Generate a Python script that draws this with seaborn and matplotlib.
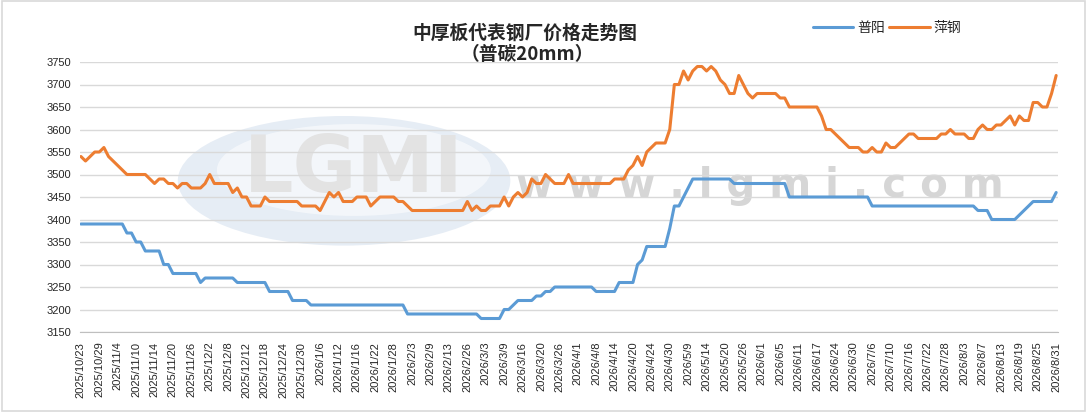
import pandas as pd
import matplotlib.pyplot as plt
import seaborn as sns
from matplotlib.patches import Ellipse, Rectangle

# x-axis labels (one every 4 data points)
tick_labels = ["2025/10/23", "2025/10/29", "2025/11/4", "2025/11/10", "2025/11/14", "2025/11/20",
               "2025/11/26", "2025/12/2", "2025/12/8", "2025/12/12", "2025/12/18", "2025/12/24",
               "2025/12/30", "2026/1/6", "2026/1/12", "2026/1/16", "2026/1/22", "2026/1/28",
               "2026/2/3", "2026/2/9", "2026/2/13", "2026/2/26", "2026/3/3", "2026/3/9",
               "2026/3/16", "2026/3/20", "2026/3/26", "2026/4/1", "2026/4/8", "2026/4/14",
               "2026/4/20", "2026/4/24", "2026/4/30", "2026/5/9", "2026/5/14", "2026/5/20",
               "2026/5/26", "2026/6/1", "2026/6/5", "2026/6/11", "2026/6/17", "2026/6/24",
               "2026/6/30", "2026/7/6", "2026/7/10", "2026/7/16", "2026/7/22", "2026/7/28",
               "2026/8/3", "2026/8/7", "2026/8/13", "2026/8/19", "2026/8/25", "2026/8/31"]

puyang = [
    3390, 3390, 3390, 3390, 3390, 3390, 3390, 3390, 3390, 3390,
    3370, 3370, 3350, 3350, 3330, 3330, 3330, 3330, 3300, 3300,
    3280, 3280, 3280, 3280, 3280, 3280, 3260, 3270, 3270, 3270,
    3270, 3270, 3270, 3270, 3260, 3260, 3260, 3260, 3260, 3260,
    3260, 3240, 3240, 3240, 3240, 3240, 3220, 3220, 3220, 3220,
    3210, 3210, 3210, 3210, 3210, 3210, 3210, 3210, 3210, 3210,
    3210, 3210, 3210, 3210, 3210, 3210, 3210, 3210, 3210, 3210,
    3210, 3190, 3190, 3190, 3190, 3190, 3190, 3190, 3190, 3190,
    3190, 3190, 3190, 3190, 3190, 3190, 3190, 3180, 3180, 3180,
    3180, 3180, 3200, 3200, 3210, 3220, 3220, 3220, 3220, 3230,
    3230, 3240, 3240, 3250, 3250, 3250, 3250, 3250, 3250, 3250,
    3250, 3250, 3240, 3240, 3240, 3240, 3240, 3260, 3260, 3260,
    3260, 3300, 3310, 3340, 3340, 3340, 3340, 3340, 3380, 3430,
    3430, 3450, 3470, 3490, 3490, 3490, 3490, 3490, 3490, 3490,
    3490, 3490, 3480, 3480, 3480, 3480, 3480, 3480, 3480, 3480,
    3480, 3480, 3480, 3480, 3450, 3450, 3450, 3450, 3450, 3450,
    3450, 3450, 3450, 3450, 3450, 3450, 3450, 3450, 3450, 3450,
    3450, 3450, 3430, 3430, 3430, 3430, 3430, 3430, 3430, 3430,
    3430, 3430, 3430, 3430, 3430, 3430, 3430, 3430, 3430, 3430,
    3430, 3430, 3430, 3430, 3430, 3420, 3420, 3420, 3400, 3400,
    3400, 3400, 3400, 3400, 3410, 3420, 3430, 3440, 3440, 3440,
    3440, 3440, 3460]

pinggang = [
    3540, 3530, 3540, 3550, 3550, 3560, 3540, 3530, 3520, 3510,
    3500, 3500, 3500, 3500, 3500, 3490, 3480, 3490, 3490, 3480,
    3480, 3470, 3480, 3480, 3470, 3470, 3470, 3480, 3500, 3480,
    3480, 3480, 3480, 3460, 3470, 3450, 3450, 3430, 3430, 3430,
    3450, 3440, 3440, 3440, 3440, 3440, 3440, 3440, 3430, 3430,
    3430, 3430, 3420, 3440, 3460, 3450, 3460, 3440, 3440, 3440,
    3450, 3450, 3450, 3430, 3440, 3450, 3450, 3450, 3450, 3440,
    3440, 3430, 3420, 3420, 3420, 3420, 3420, 3420, 3420, 3420,
    3420, 3420, 3420, 3420, 3440, 3420, 3430, 3420, 3420, 3430,
    3430, 3430, 3450, 3430, 3450, 3460, 3450, 3460, 3490, 3480,
    3480, 3500, 3490, 3480, 3480, 3480, 3500, 3480, 3480, 3480,
    3480, 3480, 3480, 3480, 3480, 3480, 3490, 3490, 3490, 3510,
    3520, 3540, 3520, 3550, 3560, 3570, 3570, 3570, 3600, 3700,
    3700, 3730, 3710, 3730, 3740, 3740, 3730, 3740, 3730, 3710,
    3700, 3680, 3680, 3720, 3700, 3680, 3670, 3680, 3680, 3680,
    3680, 3680, 3670, 3670, 3650, 3650, 3650, 3650, 3650, 3650,
    3650, 3630, 3600, 3600, 3590, 3580, 3570, 3560, 3560, 3560,
    3550, 3550, 3560, 3550, 3550, 3570, 3560, 3560, 3570, 3580,
    3590, 3590, 3580, 3580, 3580, 3580, 3580, 3590, 3590, 3600,
    3590, 3590, 3590, 3580, 3580, 3600, 3610, 3600, 3600, 3610,
    3610, 3620, 3630, 3610, 3630, 3620, 3620, 3660, 3660, 3650,
    3650, 3680, 3720]

df = pd.DataFrame({"idx": range(len(puyang)), "普阳": puyang, "萍钢": pinggang})
df_long = df.melt(id_vars="idx", var_name="钢厂", value_name="价格")

sns.set_style("white")
plt.rcParams["font.family"] = ["Noto Sans CJK SC", "DejaVu Sans"]

fig = plt.figure(figsize=(10.87, 4.12), dpi=100)
ax = fig.add_axes([80 / 1087, 1 - 332 / 412, 978 / 1087, 270 / 412])

# watermark (logo + site address)
ax.add_patch(Ellipse((0.27, 0.56), 0.34, 0.48, transform=ax.transAxes,
                     facecolor="#e6edf5", edgecolor="none", zorder=0))
ax.add_patch(Ellipse((0.28, 0.6), 0.28, 0.34, transform=ax.transAxes,
                     facecolor="white", edgecolor="none", zorder=0, alpha=0.55))
ax.text(0.28, 0.6, "LGMI", transform=ax.transAxes, fontsize=56, fontweight="bold",
        color="#e3e3e3", ha="center", va="center", family="DejaVu Sans", zorder=0.5)
ax.text(0.695, 0.54, "w w w . l g m i . c o m", transform=ax.transAxes, fontsize=29,
        fontweight="bold", color="#d6d6d6", ha="center", va="center",
        family="DejaVu Sans", zorder=0.5)

sns.lineplot(data=df_long, x="idx", y="价格", hue="钢厂", ax=ax,
             palette={"普阳": "#5B9BD5", "萍钢": "#ED7D31"}, linewidth=2.2, zorder=3)

ax.set_ylim(3150, 3750)
ax.set_yticks(range(3150, 3751, 50))
ax.set_xlim(-0.2, 212.4)
ax.set_xticks(range(0, len(puyang), 4))
ax.set_xticklabels(tick_labels, rotation=90, family="Liberation Sans", fontsize=8)
ax.tick_params(axis="y", labelsize=8, length=0, pad=6)
ax.tick_params(axis="x", length=4, width=0.8, color="#bfbfbf", pad=3, direction="out")
for lab in ax.get_yticklabels():
    lab.set_family("Liberation Sans")
ax.grid(axis="y", color="#d9d9d9", linewidth=1)
ax.set_axisbelow(True)
for s in ["left", "right", "top"]:
    ax.spines[s].set_visible(False)
ax.spines["bottom"].set_color("#bfbfbf")
ax.set_xlabel("")
ax.set_ylabel("")

ax.legend(loc="center left", bbox_to_anchor=(806 / 1087, 1 - 28 / 412),
          bbox_transform=fig.transFigure, ncol=2, frameon=False, fontsize=10,
          handlelength=2.9, handletextpad=0.3, columnspacing=0.3, borderpad=0)

fig.text(525 / 1087, 1 - 33 / 412, "中厚板代表钢厂价格走势图", fontsize=13.5,
         fontweight="bold", ha="center", va="center")
fig.text(527 / 1087, 1 - 55 / 412, "（普碳20mm）", fontsize=13.5,
         fontweight="bold", ha="center", va="center")

fig.patches.append(Rectangle((0.002, 0.003), 0.996, 0.994, transform=fig.transFigure,
                             fill=False, edgecolor="#d9d9d9", linewidth=1.2))

plt.savefig("out.png", dpi=100)
